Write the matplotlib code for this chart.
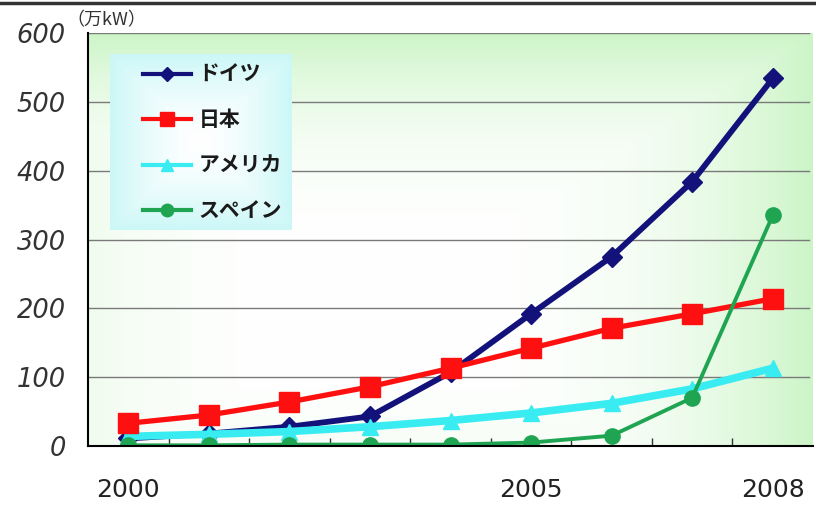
import numpy as np
import matplotlib
matplotlib.use("Agg")
import matplotlib.pyplot as plt
from matplotlib.lines import Line2D

plt.rcParams['font.family'] = ['Noto Sans CJK JP', 'DejaVu Sans']

years = list(range(2000, 2009))
germany = [11, 18, 28, 43, 107, 192, 275, 384, 534]
japan = [33, 45, 64, 86, 113, 142, 171, 192, 214]
usa = [14, 17, 21, 28, 37, 48, 62, 83, 113]
spain = [1, 1, 2, 2, 2, 5, 15, 70, 335]
series_names = ["ドイツ", "日本", "アメリカ", "スペイン"]
yticks = [0, 100, 200, 300, 400, 500, 600]
xlabels_shown = {2000: "2000", 2005: "2005", 2008: "2008"}
unit_label = "（万kW）"

c_de = "#12127a"
c_jp = "#ff1010"
c_us = "#38ecf2"
c_es = "#1fa552"

fig = plt.figure(figsize=(8.16, 5.05), dpi=100)
ax = fig.add_axes([88/816, 1-446/505, (813-88)/816, (446-33)/505])

x = np.arange(len(years))

# background gradient of plot area
nx, ny = 300, 200
gx, gy = np.meshgrid(np.linspace(0, 1, nx), np.linspace(0, 1, ny))
t = np.maximum(np.abs(gx-0.4)/0.6, np.abs(gy-0.35)/0.65)
t = np.clip(t, 0, 1) ** 3.0
white = np.array([1.0, 1.0, 1.0])
green = np.array([0.80, 0.96, 0.78])
img = white[None, None, :]*(1-t[..., None]) + green[None, None, :]*t[..., None]
ax.imshow(img, extent=[0, 1, 0, 1], transform=ax.transAxes, origin='lower',
          aspect='auto', zorder=0)

ax.set_xlim(-0.5, len(years)-0.5)
ax.set_ylim(0, 600)

for yv in yticks[1:]:
    ax.axhline(yv, color="#7a7a7a", lw=1.0, zorder=1, xmax=0.995)

ax.plot(x, germany, color=c_de, lw=4.2, marker='D', ms=10, zorder=3)
ax.plot(x, usa, color=c_us, lw=5.5, marker='^', ms=12, zorder=4)
ax.plot(x, japan, color=c_jp, lw=3.8, marker='s', ms=15, zorder=5)
ax.plot(x, spain, color=c_es, lw=2.8, marker='o', ms=11, zorder=6)

# legend box with gradient
lx0, lx1, ly0, ly1 = 0.030, 0.281, 0.522, 0.947
mx, my = np.meshgrid(np.linspace(0, 1, 100), np.linspace(0, 1, 100))
tl = np.maximum(np.abs(mx-0.5)/0.5, np.abs(my-0.5)/0.5)
tl = np.clip(tl, 0, 1) ** 1.5
cyan = np.array([0.80, 0.97, 0.97])
limg = white[None, None, :]*(1-tl[..., None]) + cyan[None, None, :]*tl[..., None]
ax.imshow(limg, extent=[lx0, lx1, ly0, ly1], transform=ax.transAxes,
          origin='lower', aspect='auto', zorder=7)

handles = [
    Line2D([], [], color=c_de, lw=3, marker='D', ms=7),
    Line2D([], [], color=c_jp, lw=3, marker='s', ms=10),
    Line2D([], [], color=c_us, lw=3, marker='^', ms=8),
    Line2D([], [], color=c_es, lw=3, marker='o', ms=9),
]
leg = ax.legend(handles, series_names, loc='upper left',
                bbox_to_anchor=(0.065, 0.945), frameon=False,
                prop={'size': 15, 'weight': 'bold'}, handlelength=2.3,
                handletextpad=0.35, labelspacing=1.17, borderaxespad=0)
leg.set_zorder(8)
for txt in leg.get_texts():
    txt.set_color("#1a1a1a")

ax.spines['top'].set_visible(False)
ax.spines['right'].set_visible(False)
ax.spines['left'].set_linewidth(1.5)
ax.spines['bottom'].set_linewidth(1.5)
ax.spines['left'].set_zorder(9)
ax.spines['bottom'].set_zorder(9)

ax.set_yticks(yticks)
ax.set_yticklabels([str(v) for v in yticks], fontsize=18.5, style='italic',
                   color="#333333", family='DejaVu Sans')
ax.tick_params(axis='y', length=0, pad=16)

major_pos = [years.index(y) for y in xlabels_shown]
ax.set_xticks(major_pos)
ax.set_xticklabels([xlabels_shown[years[p]] for p in major_pos], fontsize=18,
                   color="#222222", family='DejaVu Sans')
ax.tick_params(axis='x', which='major', length=0, pad=23)
ax.set_xticks(np.arange(0.5, len(years)-0.5, 1.0), minor=True)
ax.tick_params(axis='x', which='minor', direction='in', length=6, width=1,
               color="#333333")

fig.text(66/816, 1-20/505, unit_label, fontsize=13, color="#333333",
         va='center', ha='left')

fig.add_artist(Line2D([0, 1], [1-3/505, 1-3/505], color="#333333", lw=2.5,
                      transform=fig.transFigure))

fig.savefig("out.png", dpi=100)
